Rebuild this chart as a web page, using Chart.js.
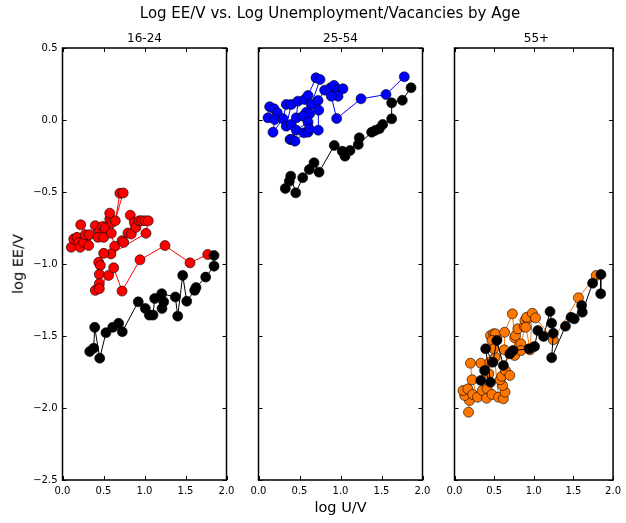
<!DOCTYPE html>
<html>
<head>
<meta charset="utf-8">
<script src="https://cdn.jsdelivr.net/npm/chart.js@4.4.1/dist/chart.umd.min.js"></script>
<style>
  body { margin: 0; background: #fff; }
  #wrap { position: relative; width: 626px; height: 523px; background: #fff; font-family: 'DejaVu Sans', sans-serif; color: #000; }
  #wrap canvas { position: absolute; left: 0; top: 0; }
  .txt { position: absolute; white-space: nowrap; line-height: 1; }
</style>
</head>
<body>
<div id="wrap">
  <canvas id="c1" width="626" height="523"></canvas>
  <canvas id="c2" width="626" height="523"></canvas>
  <canvas id="c3" width="626" height="523"></canvas>
  <div class="txt" id="suptitle" style="font-size:15px; left:330px; top:6px; transform:translateX(-50%);">Log EE/V vs. Log Unemployment/Vacancies by Age</div>
  <div class="txt" style="font-size:12px; left:144.5px; top:32px; transform:translateX(-50%);">16-24</div>
  <div class="txt" style="font-size:12px; left:340.5px; top:32px; transform:translateX(-50%);">25-54</div>
  <div class="txt" style="font-size:12px; left:536.5px; top:32px; transform:translateX(-50%);">55+</div>
  <div class="txt" style="font-size:14.5px; left:340.5px; top:500px; transform:translateX(-50%);">log U/V</div>
  <div class="txt" style="font-size:14.5px; left:18px; top:264px; transform:translate(-50%,-50%) rotate(-90deg);">log EE/V</div>
</div>
<script>
// 16-24
const youngX = [0.107, 0.137, 0.177, 0.198, 0.217, 0.259, 0.278, 0.222, 0.327, 0.320, 0.400, 0.449, 0.433, 0.490, 0.502, 0.522, 0.576, 0.604, 0.576, 0.644, 0.700, 0.740, 0.595, 0.637, 0.726, 0.746, 0.799, 0.839, 0.827, 0.876, 0.896, 0.937, 0.966, 1.006, 1.046, 1.018, 0.591, 0.502, 0.441, 0.461, 0.449, 0.563, 0.449, 0.400, 0.449, 0.624, 0.726, 0.945, 1.250, 1.555, 1.771];
const youngY = [-0.884, -0.826, -0.815, -0.850, -0.884, -0.850, -0.797, -0.728, -0.797, -0.872, -0.734, -0.773, -0.815, -0.739, -0.815, -0.750, -0.688, -0.712, -0.647, -0.700, -0.509, -0.507, -0.787, -0.877, -0.838, -0.850, -0.785, -0.792, -0.661, -0.712, -0.746, -0.700, -0.700, -0.700, -0.700, -0.787, -0.930, -0.926, -0.988, -1.010, -1.072, -1.079, -1.137, -1.183, -1.171, -1.026, -1.188, -0.971, -0.872, -0.992, -0.934];
const youngAllX = [0.332, 0.380, 0.393, 0.454, 0.530, 0.612, 0.685, 0.729, 0.924, 1.010, 1.059, 1.104, 1.124, 1.234, 1.213, 1.210, 1.376, 1.405, 1.466, 1.515, 1.612, 1.628, 1.746, 1.848, 1.848];
const youngAllY = [-1.608, -1.585, -1.440, -1.654, -1.477, -1.440, -1.412, -1.470, -1.263, -1.309, -1.355, -1.355, -1.240, -1.263, -1.309, -1.206, -1.229, -1.362, -1.079, -1.259, -1.183, -1.164, -1.091, -1.015, -0.941];

// 25-54
const primeX = [0.116, 0.136, 0.189, 0.229, 0.198, 0.177, 0.299, 0.339, 0.400, 0.339, 0.400, 0.461, 0.482, 0.563, 0.604, 0.701, 0.750, 0.644, 0.583, 0.624, 0.543, 0.604, 0.461, 0.384, 0.405, 0.445, 0.555, 0.604, 0.620, 0.729, 0.734, 0.726, 0.807, 0.880, 0.921, 0.970, 1.030, 0.970, 0.888, 0.953, 1.250, 1.555, 1.778];
const primeY = [0.015, 0.092, 0.078, 0.050, 0.003, -0.085, 0.008, 0.108, 0.108, -0.043, -0.031, 0.015, 0.131, 0.142, 0.170, 0.293, 0.281, 0.108, 0.054, 0.043, 0.026, -0.015, -0.071, -0.135, -0.135, -0.147, -0.089, -0.085, -0.061, -0.071, 0.068, 0.135, 0.207, 0.224, 0.240, 0.212, 0.217, 0.165, 0.165, 0.010, 0.147, 0.177, 0.300];
const primeAllX = [0.327, 0.376, 0.393, 0.454, 0.539, 0.620, 0.677, 0.738, 0.924, 1.022, 1.055, 1.116, 1.229, 1.217, 1.380, 1.421, 1.473, 1.515, 1.624, 1.624, 1.754, 1.860];
const primeAllY = [-0.476, -0.425, -0.390, -0.506, -0.401, -0.344, -0.297, -0.362, -0.177, -0.217, -0.251, -0.212, -0.124, -0.170, -0.085, -0.073, -0.061, -0.031, 0.008, 0.119, 0.137, 0.224];

// 55+
const oldX = [0.177, 0.189, 0.128, 0.107, 0.168, 0.229, 0.290, 0.222, 0.201, 0.332, 0.351, 0.412, 0.405, 0.473, 0.433, 0.445, 0.515, 0.454, 0.494, 0.534, 0.515, 0.473, 0.494, 0.555, 0.616, 0.637, 0.607, 0.576, 0.595, 0.644, 0.698, 0.628, 0.632, 0.730, 0.759, 0.759, 0.770, 0.799, 0.836, 0.839, 0.880, 0.888, 0.921, 0.909, 0.900, 0.954, 0.982, 1.022, 1.246, 1.563, 1.787];
const oldY = [-2.029, -1.948, -1.913, -1.879, -1.867, -1.906, -1.925, -1.804, -1.689, -1.689, -1.879, -1.867, -1.932, -1.906, -1.762, -1.682, -1.647, -1.497, -1.485, -1.519, -1.485, -1.531, -1.589, -1.925, -1.936, -1.890, -1.844, -1.804, -1.780, -1.740, -1.774, -1.596, -1.474, -1.346, -1.512, -1.635, -1.497, -1.450, -1.554, -1.601, -1.434, -1.392, -1.381, -1.370, -1.439, -1.596, -1.342, -1.374, -1.526, -1.235, -1.080];
const oldAllX = [0.332, 0.380, 0.454, 0.393, 0.485, 0.534, 0.616, 0.698, 0.738, 0.941, 1.010, 1.051, 1.124, 1.205, 1.226, 1.246, 1.226, 1.400, 1.470, 1.510, 1.604, 1.612, 1.742, 1.848, 1.844];
const oldAllY = [-1.809, -1.740, -1.821, -1.589, -1.682, -1.531, -1.705, -1.624, -1.601, -1.589, -1.573, -1.462, -1.503, -1.330, -1.411, -1.481, -1.651, -1.432, -1.370, -1.381, -1.288, -1.335, -1.133, -1.073, -1.207];

const xTicks = [0, 0.5, 1, 1.5, 2];
const yTicks = [-2.5, -2, -1.5, -1, -0.5, 0, 0.5];

// plot area of each panel on the page
const panels = [
  { id: 'c1', left: 62.5, right: 226.5, colour: '#ff0000', xs: youngX, ys: youngY, ax: youngAllX, ay: youngAllY, yLabels: true },
  { id: 'c2', left: 258.5, right: 422.5, colour: '#0000ff', xs: primeX, ys: primeY, ax: primeAllX, ay: primeAllY, yLabels: false },
  { id: 'c3', left: 454.5, right: 618.5, colour: '#ff7700', xs: oldX, ys: oldY, ax: oldAllX, ay: oldAllY, yLabels: false }
];
const plotTop = 48;
const plotBottom = 480;

function toPoints(xs, ys) {
  return xs.map((x, i) => ({ x: x, y: ys[i] }));
}

function fmt(v) {
  return v.toFixed(1).replace('-', '\u2212');
}

// matplotlib style box with inward ticks
const frameTicks = {
  id: 'frameTicks',
  afterDatasetsDraw(chart) {
    const ctx = chart.ctx;
    const a = chart.chartArea;
    const sx = chart.scales.x;
    const sy = chart.scales.y;
    ctx.save();
    ctx.strokeStyle = '#000';
    ctx.lineWidth = 1;
    xTicks.forEach(v => {
      const px = Math.round(sx.getPixelForValue(v)) + 0.5;
      ctx.beginPath();
      ctx.moveTo(px, a.bottom); ctx.lineTo(px, a.bottom - 4);
      ctx.moveTo(px, a.top); ctx.lineTo(px, a.top + 4);
      ctx.stroke();
    });
    yTicks.forEach(v => {
      const py = Math.round(sy.getPixelForValue(v)) + 0.5;
      ctx.beginPath();
      ctx.moveTo(a.left, py); ctx.lineTo(a.left + 4, py);
      ctx.moveTo(a.right, py); ctx.lineTo(a.right - 4, py);
      ctx.stroke();
    });
    ctx.lineWidth = 1.5;
    ctx.strokeRect(a.left, a.top, a.right - a.left, a.bottom - a.top);
    ctx.restore();
  }
};

panels.forEach(p => {
  const yWidth = p.yLabels ? p.left : 0;
  new Chart(document.getElementById(p.id), {
    type: 'scatter',
    data: {
      datasets: [
        {
          data: toPoints(p.xs, p.ys),
          showLine: true,
          borderColor: p.colour,
          borderWidth: 1,
          pointBackgroundColor: p.colour,
          pointBorderColor: '#000',
          pointBorderWidth: 0.6,
          pointRadius: 5,
          order: 1
        },
        {
          data: toPoints(p.ax, p.ay),
          showLine: true,
          borderColor: '#000',
          borderWidth: 1,
          pointBackgroundColor: '#000',
          pointBorderColor: '#000',
          pointBorderWidth: 0.6,
          pointRadius: 5,
          order: 0
        }
      ]
    },
    options: {
      responsive: false,
      animation: false,
      devicePixelRatio: 1,
      layout: {
        padding: { left: p.left - yWidth, right: 626 - p.right, top: plotTop, bottom: 0 }
      },
      plugins: { legend: { display: false }, tooltip: { enabled: false } },
      scales: {
        x: {
          type: 'linear',
          min: 0, max: 2,
          afterBuildTicks: s => { s.ticks = xTicks.map(v => ({ value: v })); },
          afterFit: s => { s.height = 523 - plotBottom; },
          grid: { display: false, drawTicks: false },
          border: { display: false },
          ticks: {
            padding: 5,
            color: '#000',
            font: { family: 'DejaVu Sans', size: 10 },
            callback: v => fmt(v)
          }
        },
        y: {
          type: 'linear',
          min: -2.5, max: 0.5,
          afterBuildTicks: s => { s.ticks = yTicks.map(v => ({ value: v })); },
          afterFit: s => { s.width = yWidth; },
          grid: { display: false, drawTicks: false },
          border: { display: false },
          ticks: {
            display: p.yLabels,
            padding: 5,
            color: '#000',
            font: { family: 'DejaVu Sans', size: 10 },
            callback: v => fmt(v)
          }
        }
      }
    },
    plugins: [frameTicks]
  });
});
</script>
</body>
</html>
